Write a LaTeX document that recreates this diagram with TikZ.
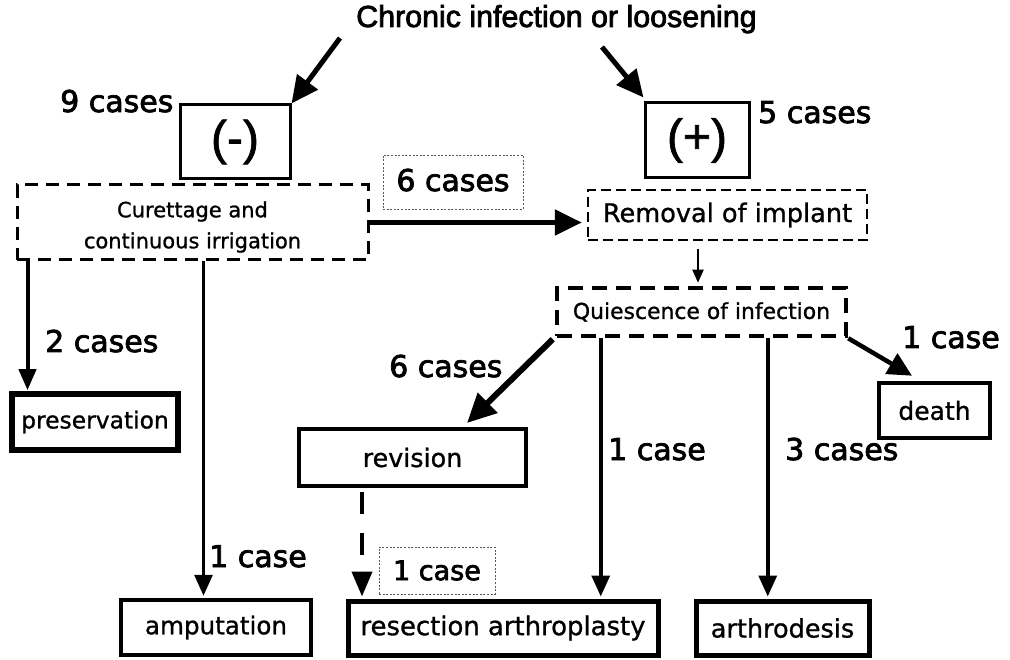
\documentclass[tikz,border=0pt]{standalone}
\usepackage{fontspec}
\setmainfont{DejaVu Sans}
\newfontfamily\titlefont[FakeBold=2.5]{Liberation Sans}
\newfontfamily\parfont[FakeBold=1.5]{Liberation Sans}
\newfontfamily\cntfont[FakeBold=2.5]{DejaVu Sans}
\newfontfamily\boxfont[FakeBold=1]{DejaVu Sans}
\usetikzlibrary{arrows.meta,calc}
\begin{document}
\begin{tikzpicture}[x=1pt,y=-1pt,
  sbox/.style={draw, inner sep=0pt, line width=#1},
  dbox/.style={draw, inner sep=0pt, line width=#1},
  lblbox/.style={draw=black!65, inner sep=0pt, line width=0.8pt, dash pattern=on 2pt off 1.6pt,
    font={\cntfont\fontsize{30}{36}\selectfont}},
  cnt/.style={inner sep=0pt, font={\cntfont\fontsize{30}{36}\selectfont}},
  bigarr/.style={line width=5pt, -{Triangle[length=27pt,width=25pt]}},
  medarr/.style={line width=4.5pt, -{Triangle[length=24pt,width=23pt]}},
  varr/.style={line width=3.5pt, -{Triangle[length=21pt,width=18pt]}},
  smallarr/.style={line width=2pt, -{Triangle[length=13pt,width=11pt]}},
]
\useasboundingbox[fill=white] (0,0) rectangle (1010,660);

% title
\node[inner sep=0pt, anchor=base, font={\titlefont\fontsize{30.4}{36}\selectfont}] (title) at (556.5,27) {Chronic infection or loosening};
\coordinate (tl) at (340,38);
\coordinate (tr) at (602,47);

% top boxes
\node[sbox=3pt, minimum width=110pt, minimum height=74pt, font={\parfont\fontsize{48}{52}\selectfont}] (minus) at (235,142) {(-)};
\node[sbox=3pt, minimum width=104pt, minimum height=75pt, font={\parfont\fontsize{48}{52}\selectfont}] (plus) at (697,140.5) {(+)};

\node[cnt, anchor=base west] (l9) at (60,112) {9 cases};
\node[cnt, anchor=base west] (l5) at (758,123) {5 cases};

% dashed process boxes
\node[dbox=3pt, dash pattern=on 13pt off 8pt, minimum width=351pt, minimum height=75pt] (cur) at (192.5,222.5) {};
\node[inner sep=0pt, align=center, font={\boxfont\fontsize{21}{31}\selectfont}] (curtxt) at (192.5,227) {Curettage and\\continuous irrigation};
\node[dbox=2.3pt, dash pattern=on 10pt off 5pt, minimum width=279pt, minimum height=50pt,
  font={\boxfont\fontsize{25.6}{30}\selectfont}] (rem) at (727.5,215) {Removal of implant};
\node[dbox=4.5pt, dash pattern=on 15pt off 9pt, minimum width=289pt, minimum height=48pt,
  font={\boxfont\fontsize{21.9}{26}\selectfont}] (qui) at (701.5,312) {Quiescence of infection};

\node[lblbox, minimum width=140pt, minimum height=54pt, text height=22pt, text depth=4pt] (l6a) at (453,182) {6 cases};

% outcome boxes
\node[sbox=5.5pt, minimum width=166pt, minimum height=56pt, font={\boxfont\fontsize{23.4}{28}\selectfont}] (pres) at (95,422) {preservation};
\node[sbox=4pt, minimum width=227pt, minimum height=57pt, font={\boxfont\fontsize{25.4}{30}\selectfont}] (rev) at (412.5,457.5) {revision};
\node[sbox=4.5pt, minimum width=111pt, minimum height=55pt, font={\boxfont\fontsize{25}{30}\selectfont}] (death) at (934.5,410.5) {death};
\node[sbox=4.5pt, minimum width=190pt, minimum height=55pt, font={\boxfont\fontsize{24.6}{30}\selectfont}] (amp) at (216,627.5) {amputation};
\node[sbox=5pt, minimum width=310pt, minimum height=54pt, font={\boxfont\fontsize{25.9}{30}\selectfont}] (res) at (503,628) {resection arthroplasty};
\node[sbox=5pt, minimum width=173pt, minimum height=54pt, font={\boxfont\fontsize{25.5}{30}\selectfont}] (arth) at (782.5,628) {arthrodesis};

\node[lblbox, minimum width=116pt, minimum height=47pt, font={\cntfont\fontsize{27}{32}\selectfont}] (l1d) at (437,570.5) {1 case};

% count labels
\node[cnt, anchor=base west] (l2) at (45,352) {2 cases};
\node[cnt, anchor=base west] (l6b) at (389,377) {6 cases};
\node[cnt, anchor=base west] (l1a) at (902,348) {1 case};
\node[cnt, anchor=base west] (l1b) at (608,460) {1 case};
\node[cnt, anchor=base west] (l3) at (785,460) {3 cases};
\node[cnt, anchor=base west] (l1c) at (209,567) {1 case};

% connectors
\draw[bigarr] (tl) -- (minus.north east);
\draw[bigarr] (tr) -- ($(plus.north west)+(0,-4)$);
\draw[bigarr] (cur.east) -- ($(cur.east -| rem.west)+(-5,0)$);
\draw[smallarr] ($(rem.south)+(-29.5,8)$) -- ($(qui.north)+(-3.5,-3)$);
\draw[line width=6pt, -{Triangle[length=29pt,width=27pt]}] ($(qui.south west)+(-2,1)$) -- ($(rev.north)+(54.5,-4)$);
\draw[medarr] (qui.south east) -- ($(death.north)+(-22.5,-5)$);
\draw[varr] ($(qui.south west)+(46,0)$) coordinate (q1) -- ($(q1 |- res.north)+(0,-2)$);
\draw[varr] ($(qui.south west)+(213,0)$) coordinate (q2) -- ($(q2 |- arth.north)+(0,-2)$);
\draw[line width=4pt, -{Triangle[length=21pt,width=17pt]}] ($(cur.south west)+(12,0)$) coordinate (c1) -- ($(c1 |- pres.north)+(0,-1)$);
\draw[varr, line width=3pt] ($(cur.south west)+(188,0)$) coordinate (c2) -- ($(c2 |- amp.north)+(0,-2)$);
\draw[line width=4pt, dash pattern=on 22pt off 19pt, -{Triangle[length=25pt,width=20pt]}] ($(rev.south west)+(65,4)$) coordinate (r1) -- ($(r1 |- res.north)+(0,-2)$);
\end{tikzpicture}
\end{document}
